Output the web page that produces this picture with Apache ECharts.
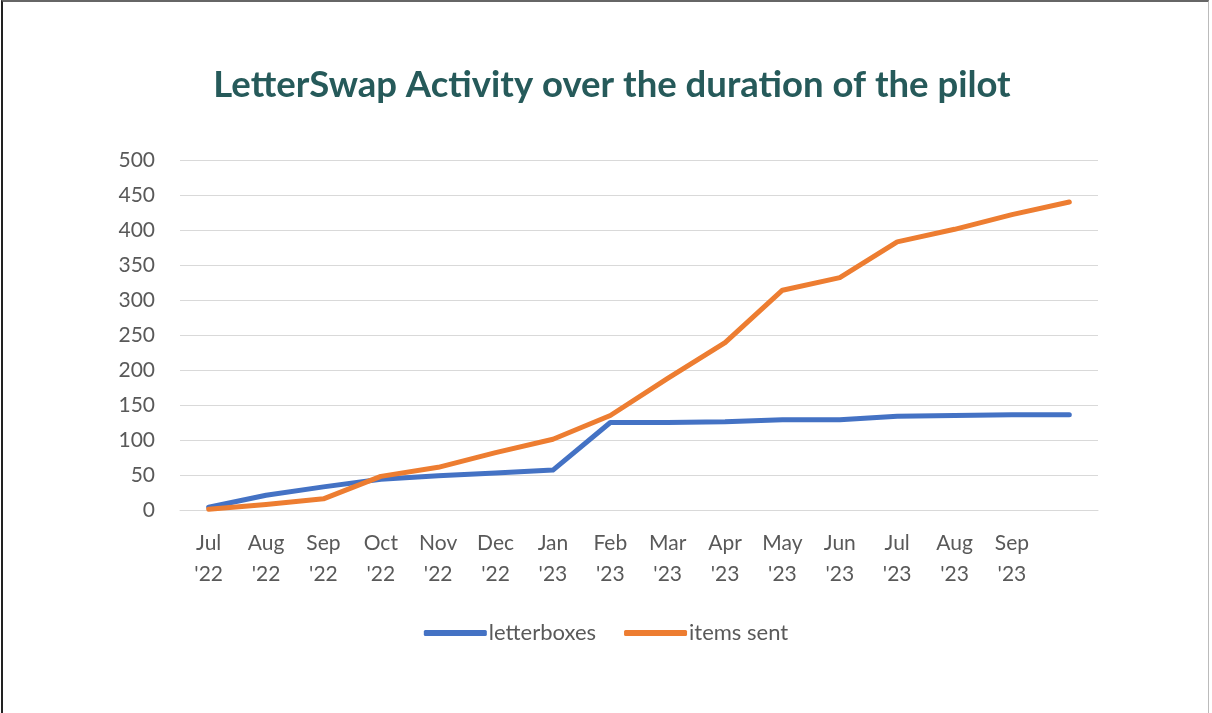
<!DOCTYPE html>
<html>
<head>
<meta charset="utf-8">
<script src="https://cdn.jsdelivr.net/npm/echarts@6/dist/echarts.min.js"></script>
<style>
  html, body { margin: 0; padding: 0; background: #fff; }
  #frame {
    position: absolute; left: 1px; top: 0px;
    width: 1208px; height: 713px;
    border-left: 2px solid #222;
    border-top: 2px solid #666;
    border-right: 1px solid #bbb;
    box-sizing: border-box;
  }
  #chart { position: absolute; left: 0; top: 0; width: 1212px; height: 713px; }
</style>
</head>
<body>
<div id="frame"></div>
<div id="chart"></div>
<script>
// months of the pilot (last slot has no label)
const months = ["Jul\n'22", "Aug\n'22", "Sep\n'22", "Oct\n'22", "Nov\n'22", "Dec\n'22",
  "Jan\n'23", "Feb\n'23", "Mar\n'23", "Apr\n'23", "May\n'23", "Jun\n'23",
  "Jul\n'23", "Aug\n'23", "Sep\n'23", ""];

const letterboxes = [4, 21, 33, 44, 49, 53, 57, 125, 125, 126, 129, 129, 134, 135, 136, 136];
const itemsSent = [1, 8, 16, 48, 61, 82, 101, 135, 188, 239, 314, 332, 383, 401, 422, 440];

const labelFont = 'Lato, "Open Sans", sans-serif';

let myChart = echarts.init(document.getElementById('chart'));

let option = {
  animation: false,
  title: {
    text: 'LetterSwap Activity over the duration of the pilot',
    left: 607,
    textAlign: 'center',
    top: 62,
    textStyle: {
      fontFamily: labelFont,
      fontSize: 36.5,
      fontWeight: 'bold',
      color: '#265a5a'
    }
  },
  grid: {
    left: 180,
    right: 114,
    top: 160,
    bottom: 203
  },
  legend: {
    data: ['letterboxes', 'items sent'],
    left: 'center',
    top: 617,
    icon: 'roundRect',
    itemWidth: 63,
    itemHeight: 6,
    itemGap: 28,
    textStyle: {
      fontFamily: labelFont,
      fontSize: 22,
      color: '#595959',
      padding: [0, 0, 0, -3]
    }
  },
  xAxis: {
    type: 'category',
    data: months,
    boundaryGap: true,
    axisLine: { lineStyle: { color: '#d9d9d9', width: 1 } },
    axisTick: { show: false },
    axisLabel: {
      interval: 0,
      margin: 18,
      fontFamily: labelFont,
      fontSize: 21,
      lineHeight: 31,
      color: '#595959'
    }
  },
  yAxis: {
    type: 'value',
    min: 0,
    max: 500,
    interval: 50,
    axisLine: { show: false },
    axisTick: { show: false },
    splitLine: { lineStyle: { color: '#d9d9d9', width: 1 } },
    axisLabel: {
      margin: 25,
      fontFamily: labelFont,
      fontSize: 21,
      color: '#595959'
    }
  },
  series: [
    {
      name: 'letterboxes',
      type: 'line',
      data: letterboxes,
      symbol: 'none',
      lineStyle: { width: 5, color: '#4472c4', cap: 'round', join: 'round' },
      itemStyle: { color: '#4472c4' }
    },
    {
      name: 'items sent',
      type: 'line',
      data: itemsSent,
      symbol: 'none',
      lineStyle: { width: 5, color: '#ed7d31', cap: 'round', join: 'round' },
      itemStyle: { color: '#ed7d31' }
    }
  ]
};

myChart.setOption(option);
</script>
</body>
</html>
